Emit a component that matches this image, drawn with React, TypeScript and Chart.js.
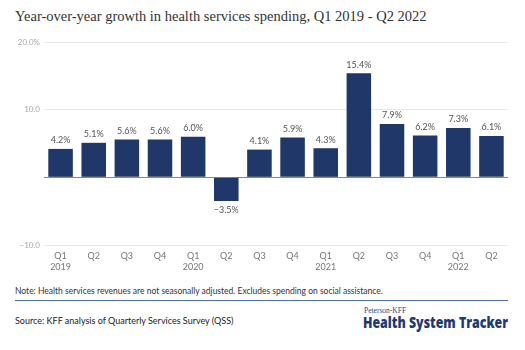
import React, { useEffect, useRef } from "react";
import { Chart, registerables } from "chart.js";

Chart.register(...registerables);

const categories: string[][] = [
  ["Q1", "2019"], ["Q2"], ["Q3"], ["Q4"],
  ["Q1", "2020"], ["Q2"], ["Q3"], ["Q4"],
  ["Q1", "2021"], ["Q2"], ["Q3"], ["Q4"],
  ["Q1", "2022"], ["Q2"],
];
const growth: number[] = [4.2, 5.1, 5.6, 5.6, 6.0, -3.5, 4.1, 5.9, 4.3, 15.4, 7.9, 6.2, 7.3, 6.1];
const yTicks: number[] = [-10, 0, 10, 20];
const yTickLabels: string[] = ["\u221210.0", "", "10.0", "20.0%"];

const BAR = "#203769";
const SANS = "Lato, 'Open Sans', sans-serif";

const labelPlugin = {
  id: "barLabels",
  afterDatasetsDraw(chart: any) {
    const ctx = chart.ctx;
    const meta = chart.getDatasetMeta(0);
    ctx.save();
    ctx.font = `9px ${SANS}`;
    ctx.fillStyle = "#555";
    ctx.textAlign = "center";
    meta.data.forEach((el: any, i: number) => {
      const v = growth[i];
      const txt = (v < 0 ? "\u2212" + Math.abs(v).toFixed(1) : v.toFixed(1)) + "%";
      if (v >= 0) {
        ctx.textBaseline = "bottom";
        ctx.fillText(txt, el.x, el.y - 4);
      } else {
        ctx.textBaseline = "top";
        ctx.fillText(txt, el.x, el.y + 5);
      }
    });
    ctx.restore();
  },
};

export default function App() {
  const ref = useRef<HTMLCanvasElement>(null);
  const logoRef = useRef<HTMLSpanElement>(null);
  useEffect(() => {
    if (logoRef.current) {
      const w = logoRef.current.offsetWidth;
      if (w > 0) logoRef.current.style.transform = `scaleX(${145 / w})`;
    }
    if (!ref.current) return;
    const chart = new Chart(ref.current, {
      type: "bar",
      data: {
        labels: categories,
        datasets: [
          {
            data: growth,
            backgroundColor: BAR,
            barPercentage: 0.74,
            categoryPercentage: 1,
          },
        ],
      },
      options: {
        animation: false,
        responsive: false,
        maintainAspectRatio: false,
        layout: { padding: { top: 12, right: 17, left: 0, bottom: 0 } },
        plugins: { legend: { display: false }, tooltip: { enabled: false } },
        scales: {
          x: {
            grid: { display: false, drawTicks: false },
            border: { display: false },
            ticks: { color: "#777", font: { family: SANS, size: 9 }, padding: 6, maxRotation: 0, autoSkip: false },
            afterFit: (s: any) => { s.height = 35; },
          },
          y: {
            min: -10,
            max: 20,
            afterBuildTicks: (s: any) => { s.ticks = yTicks.map((v) => ({ value: v })); },
            afterFit: (s: any) => { s.width = 44; },
            border: { display: false },
            grid: {
              drawTicks: false,
              color: (c: any) => (c.tick && c.tick.value === 0 ? "#888" : "#e8e8e8"),
              lineWidth: 1,
            },
            ticks: {
              color: "#aaa",
              font: { family: SANS, size: 8 },
              padding: 4,
              callback: (v: any) => yTickLabels[yTicks.indexOf(Number(v))] ?? "",
            },
          },
        },
      },
      plugins: [labelPlugin],
    });
    return () => chart.destroy();
  }, []);

  return (
    <div style={{ position: "fixed", left: 0, top: 0, width: 525, height: 350, background: "#fff", overflow: "hidden" }}>
      <div style={{ position: "absolute", left: 15, top: 8, fontFamily: "'Liberation Serif', serif", fontSize: 14.5, color: "#333", whiteSpace: "nowrap" }}>
        Year-over-year growth in health services spending, Q1 2019 - Q2 2022
      </div>
      <canvas ref={ref} width={525} height={250} style={{ position: "absolute", left: 0, top: 30, width: 525, height: 250 }} />
      <div style={{ position: "absolute", left: 15, top: 286, fontFamily: SANS, fontSize: 8.5, color: "#333", whiteSpace: "nowrap" }}>
        Note: Health services revenues are not seasonally adjusted. Excludes spending on social assistance.
      </div>
      <div style={{ position: "absolute", left: 15, top: 300, width: 493, height: 1, background: "#4d6fa6" }} />
      <div style={{ position: "absolute", left: 15, top: 315, fontFamily: SANS, fontSize: 9, color: "#222", whiteSpace: "nowrap" }}>
        Source: KFF analysis of Quarterly Services Survey (QSS)
      </div>
      <div style={{ position: "absolute", left: 364, top: 306, fontFamily: "'Liberation Serif', serif", fontSize: 7.5, color: "#2a4a85", whiteSpace: "nowrap" }}>
        Peterson-KFF
      </div>
      <span ref={logoRef} style={{ position: "absolute", left: 363, top: 314, display: "inline-block", transformOrigin: "0 0", fontFamily: "'Open Sans', sans-serif", fontWeight: 800, fontSize: 15, lineHeight: "17px", color: "#1f3a70", whiteSpace: "nowrap" }}>
        Health System Tracker
      </span>
    </div>
  );
}
